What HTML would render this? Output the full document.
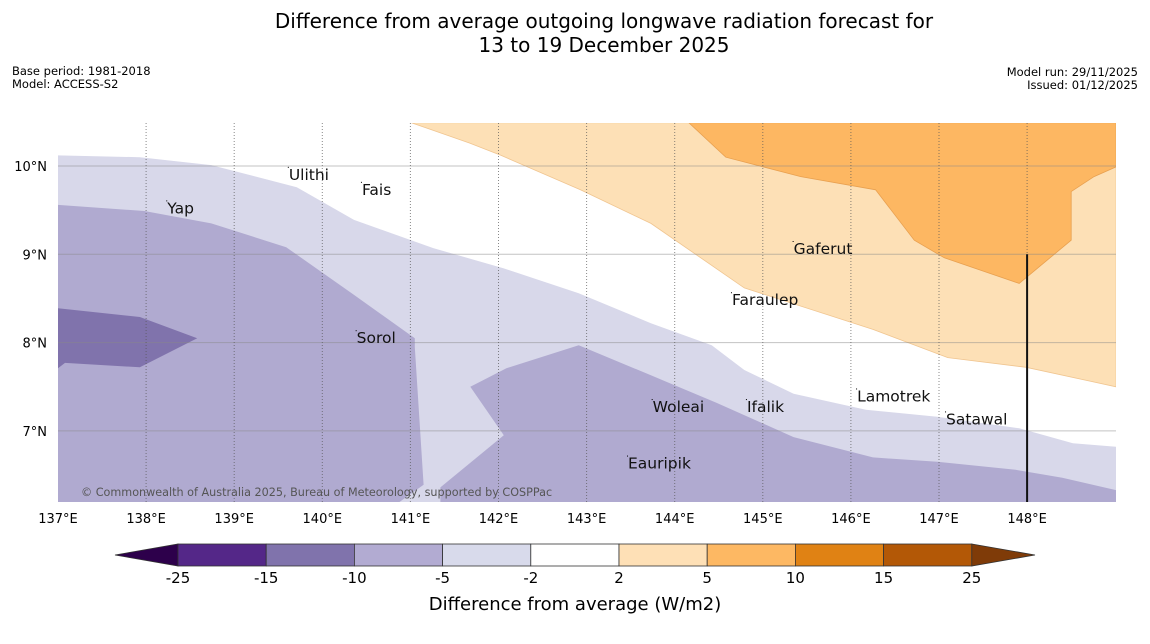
<!DOCTYPE html>
<html><head><meta charset="utf-8">
<style>
body{margin:0;background:#fff;font-family:"Liberation Sans","DejaVu Sans",sans-serif;}
#wrap{position:relative;width:1150px;height:644px;overflow:hidden;}
</style></head>
<body>
<div id="wrap">
<svg id="svg" width="1150" height="644" xmlns="http://www.w3.org/2000/svg" font-family="DejaVu Sans, Liberation Sans, sans-serif">
<text x="604" y="28" font-size="20" text-anchor="middle">Difference from average outgoing longwave radiation forecast for</text>
<text x="604" y="52" font-size="20" text-anchor="middle">13 to 19 December 2025</text>
<text x="12" y="75" font-size="11.5">Base period: 1981-2018</text>
<text x="12" y="88" font-size="11.5">Model: ACCESS-S2</text>
<text x="1138" y="76" font-size="11.5" text-anchor="end">Model run: 29/11/2025</text>
<text x="1138" y="89" font-size="11.5" text-anchor="end">Issued: 01/12/2025</text>
<g id="plot"></g>
<g id="cbar"></g>
<text x="575" y="610" font-size="18" text-anchor="middle">Difference from average (W/m2)</text>
</svg>
</div>
<script>
// map extent
const lonTicks = [137,138,139,140,141,142,143,144,145,146,147,148];
const latTicks = [7,8,9,10];
// contour polygons (lon, lat)
const lightLavender = [[137,10.12],[137.93,10.10],[138.74,10.01],[139.71,9.76],[140.36,9.39],[141.26,9.07],[142.06,8.84],[142.91,8.56],[143.73,8.22],[144.42,7.97],[144.79,7.69],[145.35,7.42],[146.17,7.24],[146.98,7.16],[147.91,7.03],[148.52,6.86],[149.01,6.82],[149.01,6.19],[137,6.19]];
const midLavenderA = [[137,9.56],[137.98,9.49],[138.74,9.35],[139.59,9.08],[140.36,8.54],[141.05,8.05],[141.05,7.95],[141.15,6.39],[140.87,6.19],[137,6.19]];
const midLavenderB = [[141.34,6.19],[141.34,6.36],[142.06,6.95],[141.68,7.50],[142.09,7.71],[142.91,7.97],[143.73,7.63],[144.47,7.32],[145.35,6.93],[146.25,6.70],[146.98,6.65],[147.87,6.56],[148.40,6.47],[149.01,6.33],[149.01,6.19]];
const darkLavender = [[137,8.39],[137.93,8.29],[138.58,8.05],[137.93,7.72],[137.08,7.77],[137,7.71]];
const lightOrange = [[141.01,10.49],[141.67,10.26],[142.03,10.12],[142.93,9.73],[143.73,9.35],[144.79,8.62],[146.25,8.15],[147.10,7.83],[147.99,7.72],[149.01,7.50],[149.01,10.49]];
const midOrange = [[144.16,10.49],[144.58,10.10],[145.43,9.88],[146.28,9.73],[146.72,9.16],[147.06,8.96],[147.91,8.67],[148.50,9.16],[148.50,9.71],[148.76,9.88],[149.01,9.99],[149.01,10.49]];
const places = ["Ulithi","Fais","Yap","Gaferut","Faraulep","Sorol","Lamotrek","Woleai","Ifalik","Satawal","Eauripik"];
const placeLon = [139.62,140.45,138.24,145.35,144.65,140.39,146.07,143.75,144.82,147.08,143.47];
const placeLat = [9.9,9.73,9.52,9.06,8.48,8.05,7.39,7.27,7.27,7.13,6.63];
const cbLevels = ["-25","-15","-10","-5","-2","2","5","10","15","25"];
const cbColors = ["#542788","#8073ac","#b2abd2","#d8daeb","#ffffff","#fee0b6","#fdb863","#e08214","#b35806"];

const X0=58, PXL=88.1, Y10=166, PYL=88.3;
const px = lon => X0+(lon-137)*PXL;
const py = lat => Y10+(10-lat)*PYL;
const NS="http://www.w3.org/2000/svg";
const plot=document.getElementById('plot');
function mk(tag,attrs,parent){const e=document.createElementNS(NS,tag);for(const k in attrs)e.setAttribute(k,attrs[k]);parent.appendChild(e);return e;}
const clip=mk('clipPath',{id:'pc'},plot);
mk('rect',{x:58,y:123,width:1058,height:379},clip);
const g=mk('g',{'clip-path':'url(#pc)'},plot);
function poly(pts,fill,stroke,name){
  const p=mk('polygon',{points:pts.map(q=>px(q[0]).toFixed(1)+','+py(q[1]).toFixed(1)).join(' '),fill:fill,stroke:stroke||'none','stroke-width':0.8},g);
  
  
}
poly(lightLavender,'#d8d8ea',null,'contour-minus5-minus2');
poly(midLavenderA,'#b0aad0',null,'contour-minus10-minus5-west');
poly(midLavenderB,'#b0aad0',null,'contour-minus10-minus5-south');
poly(darkLavender,'#8073ac',null,'contour-minus15-minus10');
poly(lightOrange,'#fde0b6','#f0c590','contour-2-5');
poly(midOrange,'#fdb762','#e8a050','contour-5-10');
// gridlines
latTicks.forEach(l=>{
  const ln=mk('line',{x1:58,x2:1116,y1:py(l),y2:py(l),stroke:'#888','stroke-opacity':0.5,'stroke-width':1},g);
  
  
  const t=mk('text',{x:47,y:py(l)+5,'font-size':13,'text-anchor':'end'},plot);
  t.textContent=l+'°N';
  
  
});
lonTicks.forEach(l=>{
  if(l>137){
    const ln=mk('line',{x1:px(l),x2:px(l),y1:123,y2:502,stroke:'#555','stroke-opacity':0.7,'stroke-width':1,'stroke-dasharray':'1,2'},g);
    
    
  }
  const t=mk('text',{x:px(l),y:523,'font-size':13,'text-anchor':'middle'},plot);
  t.textContent=l+'°E';
  
  
});
const vl=mk('line',{x1:px(148),x2:px(148),y1:py(9),y2:502,stroke:'#111','stroke-width':2},g);


places.forEach((n,i)=>{
  const t=mk('text',{x:px(placeLon[i]),y:py(placeLat[i])+5,'font-size':15.5,fill:'#111'},plot);
  t.textContent=n;
  
  
  const d=mk('rect',{x:px(placeLon[i])-1,y:py(placeLat[i])-8,width:1,height:1,fill:'#000'},plot);
  
  
});
const cr=mk('text',{x:81,y:496,'font-size':11.2,fill:'#555'},plot);
cr.textContent='© Commonwealth of Australia 2025, Bureau of Meteorology, supported by COSPPac';


// colorbar
const cb=document.getElementById('cbar');
const CX0=178, CW=88.2, CY=544, CH=22;
const la=mk('polygon',{points:`115,555 ${CX0},${CY} ${CX0},${CY+CH}`,fill:'#2d004b',stroke:'#333','stroke-width':0.8},cb);


cbColors.forEach((c,i)=>{
  const r=mk('rect',{x:CX0+i*CW,y:CY,width:CW,height:CH,fill:c,stroke:'#333','stroke-width':0.8},cb);
  
  
});
const xe=CX0+cbColors.length*CW;
const ra=mk('polygon',{points:`${xe},${CY} 1035,555 ${xe},${CY+CH}`,fill:'#7f3b08',stroke:'#333','stroke-width':0.8},cb);


cbLevels.forEach((l,i)=>{
  const t=mk('text',{x:CX0+i*CW,y:583,'font-size':15,'text-anchor':'middle'},cb);
  t.textContent=l;
  
  
});
</script>
</body></html>
